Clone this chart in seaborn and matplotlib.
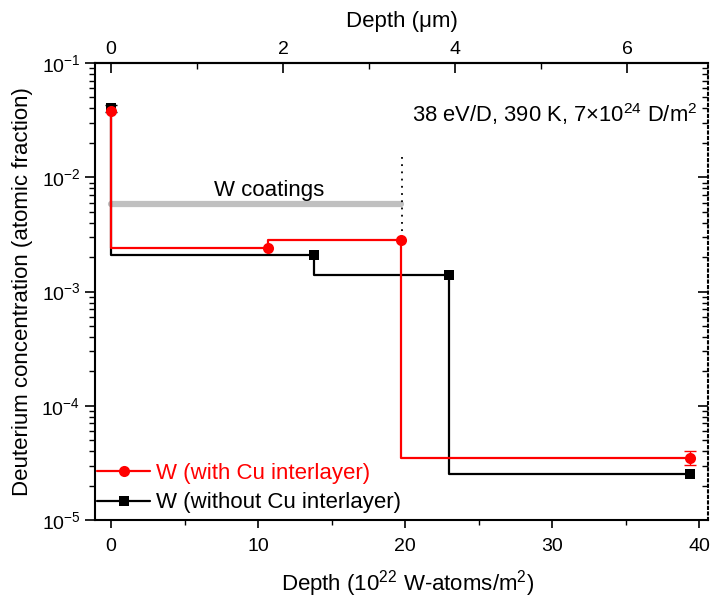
import matplotlib
matplotlib.use("Agg")
import matplotlib.pyplot as plt
import matplotlib.ticker as mticker
import seaborn as sns
import pandas as pd

# depth in 1e22 W-atoms/m^2, D concentration in atomic fraction
depth_with_cu = [0, 10.7, 19.7, 39.4]
conc_with_cu = [0.038, 0.0024, 0.0028, 3.5e-5]
depth_without_cu = [0, 13.8, 23.0, 39.4]
conc_without_cu = [0.040, 0.0021, 0.0014, 2.55e-5]

labels = ["W (with Cu interlayer)", "W (without Cu interlayer)"]
coating_span = [0, 19.7]
coating_level = 0.0058
coating_edge = 19.75
atoms_per_um = 5.85
um_ticks = [0, 2, 4, 6]

sns.set_style("ticks")
plt.rcParams['font.family'] = ['Liberation Sans', 'DejaVu Sans']
plt.rcParams['mathtext.fontset'] = 'custom'
plt.rcParams['mathtext.rm'] = 'Liberation Sans'
plt.rcParams['mathtext.it'] = 'Liberation Sans:italic'
plt.rcParams['mathtext.bf'] = 'Liberation Sans:bold'
plt.rcParams['axes.unicode_minus'] = False
for key in ['text.color', 'axes.labelcolor', 'xtick.color', 'ytick.color', 'axes.edgecolor']:
    plt.rcParams[key] = 'black'

fig = plt.figure(figsize=(7.1, 5.98), dpi=100)
ax = fig.add_axes([0.1338, 0.1304, 0.8634, 0.7642])

df_with = pd.DataFrame({"depth": depth_with_cu, "conc": conc_with_cu})
df_without = pd.DataFrame({"depth": depth_without_cu, "conc": conc_without_cu})

sns.lineplot(data=df_without, x="depth", y="conc", ax=ax, color="black", lw=1.6,
             marker="s", markersize=7, markeredgewidth=0, drawstyle="steps-pre",
             estimator=None, sort=False, label=labels[1])
ax.errorbar([depth_without_cu[0]], [conc_without_cu[0]], yerr=0.0025,
            fmt="none", ecolor="black", elinewidth=1, capsize=4)
sns.lineplot(data=df_with, x="depth", y="conc", ax=ax, color="red", lw=1.6,
             marker="o", markersize=8, markeredgewidth=0, drawstyle="steps-pre",
             estimator=None, sort=False, label=labels[0])
ax.errorbar([depth_with_cu[-1]], [conc_with_cu[-1]], yerr=[[0.45e-5], [0.5e-5]],
            fmt="none", ecolor="red", elinewidth=1, capsize=4)

# coating thickness marker
ax.plot(coating_span, [coating_level, coating_level], color="#c0c0c0", lw=4.5,
        solid_capstyle="round", zorder=1)
ax.text(sum(coating_span) / 2 + 0.9, 0.0076, "W coatings", ha="center", va="center", fontsize=16)
ax.plot([coating_edge, coating_edge], [0.015, 0.003], color="black", ls=(0, (1, 3)), lw=1.3, zorder=1)

ax.text(0.983, 0.888, r"38 eV/D, 390 K, 7$\times$10$^{24}$ D/m$^2$", transform=ax.transAxes,
        ha="right", va="center", fontsize=15.8)

ax.set_yscale("log")
ax.set_ylim(1e-5, 1e-1)
ax.set_xlim(-1.1, 40.6)
ax.xaxis.set_major_locator(mticker.MultipleLocator(10))
ax.xaxis.set_minor_locator(mticker.MultipleLocator(5))
ax.yaxis.set_major_locator(mticker.LogLocator(base=10, numticks=10))
ax.yaxis.set_minor_locator(mticker.LogLocator(base=10, subs=range(2, 10), numticks=10))
ax.yaxis.set_minor_formatter(mticker.NullFormatter())

ax.tick_params(axis="x", which="major", direction="out", length=6, width=1.2, labelsize=14, pad=7, bottom=True, top=False)
ax.tick_params(axis="x", which="minor", direction="out", length=3.5, width=1.0, bottom=True, top=False)
ax.tick_params(axis="y", which="major", direction="out", length=7, width=1.2, labelsize=14, left=True, right=False)
ax.tick_params(axis="y", which="minor", direction="out", length=4, width=1.0, left=True, right=False)

for side in ["left", "bottom", "top", "right"]:
    ax.spines[side].set_linewidth(1.5)
ax.spines["right"].set_linestyle(":")

# inward ticks along the dotted right edge
right = ax.secondary_yaxis("right")
right.tick_params(which="major", direction="in", length=7, width=1.2, labelright=False)
right.tick_params(which="minor", direction="in", length=4, width=1.0)
right.yaxis.set_minor_formatter(mticker.NullFormatter())
right.spines["right"].set_visible(False)

ax.set_xlabel(r"Depth (10$^{22}$ W-atoms/m$^2$)", fontsize=16)
ax.set_ylabel("Deuterium concentration (atomic fraction)", fontsize=16)
ax.xaxis.set_label_coords(0.51, -0.105)
ax.yaxis.set_label_coords(-0.101, 0.5)

top = ax.secondary_xaxis("top", functions=(lambda x: x / atoms_per_um, lambda u: u * atoms_per_um))
top.xaxis.set_major_locator(mticker.FixedLocator(um_ticks))
top.xaxis.set_minor_locator(mticker.FixedLocator([1, 3, 5]))
top.tick_params(which="major", direction="in", length=7, width=1.2, labelsize=14)
top.tick_params(which="minor", direction="in", length=4, width=1.0)
top.spines["top"].set_linewidth(1.5)
top.set_xlabel("Depth (μm)", fontsize=16, labelpad=10)

handles, hl = ax.get_legend_handles_labels()
order = [hl.index(labels[0]), hl.index(labels[1])]
leg = ax.legend([handles[i] for i in order], [hl[i] for i in order], loc="lower left",
                bbox_to_anchor=(-0.004, 0.005), frameon=False, fontsize=16,
                handlelength=2.4, handletextpad=0.25, borderaxespad=0.0,
                borderpad=0.2, labelspacing=0.38)
for txt, col in zip(leg.get_texts(), ["red", "black"]):
    txt.set_color(col)

fig.savefig("out.png", dpi=100)
